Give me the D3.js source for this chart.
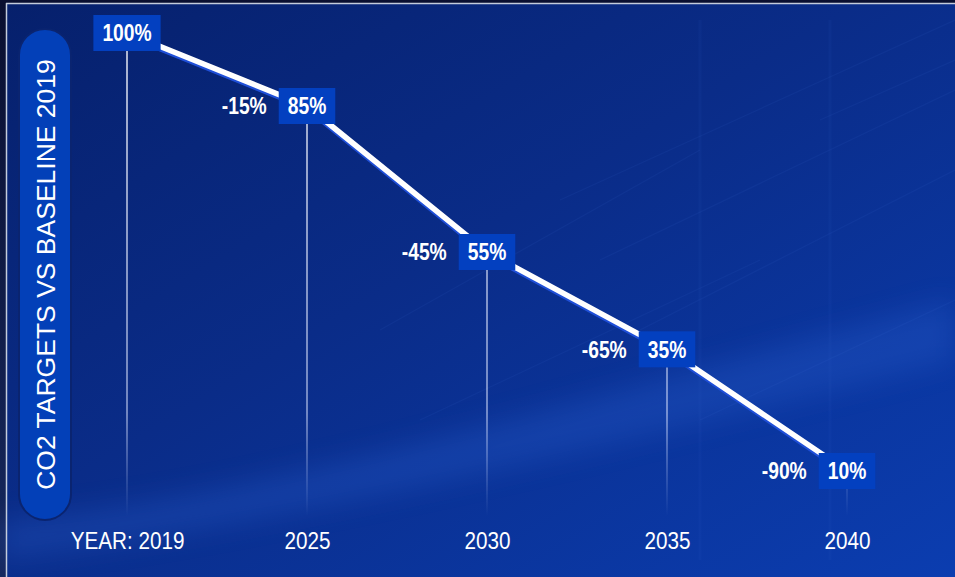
<!DOCTYPE html>
<html>
<head>
<meta charset="utf-8">
<script src="https://cdn.jsdelivr.net/npm/d3@7"></script>
<style>
  html, body { margin: 0; padding: 0; background: #0b1640; }
  svg { display: block; }
</style>
</head>
<body>
<svg id="chart" width="955" height="577"></svg>
<script>
// ---- data ----
const years = ["2019", "2025", "2030", "2035", "2040"];
const tickLabels = ["YEAR: 2019", "2025", "2030", "2035", "2040"];
const targets = [100, 85, 55, 35, 10];           // % of 2019 baseline
const changes = [null, -15, -45, -65, -90];      // % change vs baseline
const yTitle = "CO2 TARGETS VS BASELINE 2019";

const W = 955, H = 577;
const svg = d3.select("#chart");
const defs = svg.append("defs");

// background gradients
const bg = defs.append("linearGradient").attr("id", "bg")
  .attr("x1", "0").attr("y1", "0").attr("x2", "1").attr("y2", "1");
bg.append("stop").attr("offset", "0").attr("stop-color", "#06206c");
bg.append("stop").attr("offset", "0.45").attr("stop-color", "#0a2c88");
bg.append("stop").attr("offset", "1").attr("stop-color", "#0b3db0");

const outer = defs.append("linearGradient").attr("id", "outer")
  .attr("x1", "0").attr("y1", "0").attr("x2", "0").attr("y2", "1");
outer.append("stop").attr("offset", "0").attr("stop-color", "#0a0f30");
outer.append("stop").attr("offset", "1").attr("stop-color", "#16285e");

const drop = defs.append("linearGradient").attr("id", "drop")
  .attr("gradientUnits", "userSpaceOnUse")
  .attr("x1", 0).attr("y1", 0).attr("x2", 0).attr("y2", 516);
drop.append("stop").attr("offset", "0").attr("stop-color", "#ffffff").attr("stop-opacity", 0.95);
drop.append("stop").attr("offset", "0.8").attr("stop-color", "#dfe6ff").attr("stop-opacity", 0.65);
drop.append("stop").attr("offset", "1").attr("stop-color", "#cfd9ff").attr("stop-opacity", 0);

const blur = defs.append("filter").attr("id", "blur").attr("x", "-20%").attr("y", "-50%")
  .attr("width", "140%").attr("height", "200%");
blur.append("feGaussianBlur").attr("stdDeviation", 14);

svg.append("rect").attr("width", W).attr("height", H).attr("fill", "url(#outer)");
svg.append("rect").attr("x", 6).attr("y", 3).attr("width", W - 6).attr("height", H - 3)
  .attr("fill", "url(#bg)");

// decorative texture: soft light swoosh and faint diagonal streaks
const deco = svg.append("g").attr("pointer-events", "none");
deco.append("path")
  .attr("d", "M 0 520 C 250 500, 500 420, 955 300 L 955 360 C 600 450, 300 520, 0 560 Z")
  .attr("fill", "#2a60d0").attr("opacity", 0.3).attr("filter", "url(#blur)");
const streaks = [[560, 200, 955, 20], [600, 260, 955, 90], [640, 330, 955, 170], [380, 330, 700, 150],
                 [700, 420, 955, 300], [420, 420, 760, 260], [820, 120, 955, 60]];
deco.selectAll("line.streak").data(streaks).join("line").attr("class", "streak")
  .attr("x1", d => d[0]).attr("y1", d => d[1]).attr("x2", d => d[2]).attr("y2", d => d[3])
  .attr("stroke", "#4a7ae0").attr("stroke-width", 1.2).attr("opacity", 0.08);
[[700, 20, 700, 560], [830, 20, 830, 560]].forEach(d => {
  deco.append("line").attr("x1", d[0]).attr("y1", d[1]).attr("x2", d[2]).attr("y2", d[3])
    .attr("stroke", "#3a68d0").attr("stroke-width", 3).attr("opacity", 0.07);
});

// frame lines
svg.append("line").attr("x1", 6).attr("y1", 3.5).attr("x2", W).attr("y2", 3.5)
  .attr("stroke", "#c4ccdc").attr("stroke-width", 1.5);
svg.append("line").attr("x1", 6.5).attr("y1", 3).attr("x2", 6.5).attr("y2", H)
  .attr("stroke", "#c4ccdc").attr("stroke-width", 1.5);

// scales
const x = d3.scalePoint().domain(years).range([127, 847]);
const y = d3.scaleLinear().domain([10, 100]).range([471, 33]);
const data = years.map((yr, i) => ({ yr, v: targets[i], c: changes[i], tick: tickLabels[i] }));

const boxH = 36;
const narrow = 0.82;

// drop lines
svg.selectAll("line.drop").data(data).join("line").attr("class", "drop")
  .attr("x1", d => x(d.yr)).attr("x2", d => x(d.yr))
  .attr("y1", d => y(d.v) + boxH / 2).attr("y2", 516)
  .attr("stroke", "url(#drop)").attr("stroke-width", 1.5);

// main line with blue shadow
const lineGen = d3.line().x(d => x(d.yr)).y(d => y(d.v));
svg.append("path").datum(data).attr("d", lineGen)
  .attr("fill", "none").attr("stroke", "#1f4fd8").attr("stroke-width", 6)
  .attr("transform", "translate(0,2)");
svg.append("path").datum(data).attr("d", lineGen)
  .attr("fill", "none").attr("stroke", "#ffffff").attr("stroke-width", 5.5);

// value boxes
const fontStack = "'Liberation Sans', Arial, 'DejaVu Sans', sans-serif";
const vg = svg.selectAll("g.val").data(data).join("g").attr("class", "val")
  .attr("transform", d => `translate(${x(d.yr)},${y(d.v)})`);
vg.append("text")
  .attr("transform", `scale(${narrow},1)`)
  .attr("text-anchor", "middle").attr("dy", "0.36em")
  .attr("font-family", fontStack).attr("font-weight", "bold").attr("font-size", 23.5)
  .attr("fill", "#ffffff").text(d => d.v + "%");
vg.each(function () {
  const g = d3.select(this);
  const bb = g.select("text").node().getBBox();
  const w = bb.width * narrow + 18;
  g.insert("rect", "text").attr("x", -w / 2).attr("y", -boxH / 2)
    .attr("width", w).attr("height", boxH).attr("fill", "#0340c0");
  g.attr("data-w", w);
});

// change labels
svg.selectAll("g.chg").data(data.filter(d => d.c !== null)).join("g").attr("class", "chg")
  .attr("transform", function (d) {
    const w = +vg.filter(e => e.yr === d.yr).attr("data-w");
    return `translate(${x(d.yr) - w / 2 - 12},${y(d.v)})`;
  })
  .append("text")
  .attr("transform", `scale(${narrow},1)`)
  .attr("text-anchor", "end").attr("dy", "0.36em")
  .attr("font-family", fontStack).attr("font-weight", "bold").attr("font-size", 23.5)
  .attr("fill", "#ffffff").text(d => d.c + "%");

// x axis labels
const xAxis = d3.axisBottom(x).tickSize(0).tickPadding(0).tickFormat((d, i) => tickLabels[i]);
const ax = svg.append("g").attr("transform", "translate(0,532)").call(xAxis);
ax.select(".domain").remove();
ax.selectAll("text").attr("font-family", fontStack).attr("font-size", 23.5)
  .attr("transform", "scale(0.88,1)")
  .attr("fill", "#ffffff").attr("dy", "0.71em");

// y title pill
svg.append("rect").attr("x", 19).attr("y", 29).attr("width", 52).attr("height", 491)
  .attr("rx", 26).attr("ry", 26).attr("fill", "#0340b8")
  .attr("stroke", "#0a2470").attr("stroke-width", 2);
svg.append("text")
  .attr("transform", `translate(45,${29 + 491 / 2}) rotate(-90)`)
  .attr("text-anchor", "middle").attr("dy", "0.36em")
  .attr("font-family", fontStack).attr("font-size", 26.5).attr("fill", "#ffffff")
  .text(yTitle);
</script>
</body>
</html>
